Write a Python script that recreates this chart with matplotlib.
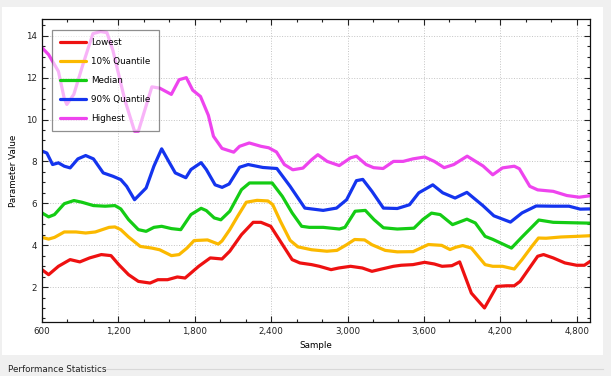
import matplotlib
matplotlib.use("Agg")
import matplotlib.pyplot as plt
from matplotlib.patches import Rectangle
from matplotlib.ticker import MultipleLocator, StrMethodFormatter

# values
highest_x = [600, 652, 729, 775, 795, 850, 920, 1000, 1060, 1110, 1157, 1250, 1327, 1357,
             1463, 1524, 1616, 1677, 1734, 1784, 1845, 1907, 1947, 2014, 2106, 2152, 2228,
             2320, 2381, 2442, 2504, 2570, 2650, 2718, 2767, 2840, 2935, 3024, 3070, 3146,
             3205, 3280, 3361, 3437, 3514, 3606, 3682, 3759, 3835, 3940, 4065, 4141, 4218,
             4310, 4350, 4432, 4494, 4616, 4723, 4820, 4907]
highest_y = [13.43, 13.1, 12.3, 11.0, 10.72, 11.2, 12.6, 14.1, 14.2, 14.15, 13.3, 10.95, 9.44,
             9.44, 11.56, 11.5, 11.2, 11.9, 12.0, 11.4, 11.1, 10.2, 9.2, 8.62, 8.44, 8.72, 8.88,
             8.72, 8.65, 8.45, 7.85, 7.6, 7.68, 8.08, 8.32, 8.0, 7.8, 8.17, 8.25, 7.85,
             7.7, 7.66, 8.0, 8.0, 8.12, 8.21, 8.0, 7.7, 7.85, 8.25, 7.78, 7.36, 7.69,
             7.77, 7.65, 6.81, 6.64, 6.57, 6.37, 6.29, 6.36]

q90_x = [600, 638, 683, 729, 775, 821, 882, 943, 1004, 1081, 1157, 1219, 1265, 1327, 1418,
         1479, 1540, 1602, 1647, 1730, 1770, 1850, 1891, 1960, 2015, 2070, 2152, 2220, 2335,
         2445, 2549, 2665, 2809, 2914, 2993, 3070, 3120, 3192, 3282, 3391, 3487, 3560, 3670,
         3748, 3845, 3938, 4065, 4150, 4280, 4371, 4482, 4616, 4740, 4828, 4907]
q90_y = [8.49, 8.4, 7.85, 7.93, 7.77, 7.69, 8.12, 8.28, 8.12, 7.45, 7.29, 7.13, 6.81, 6.17, 6.73,
         7.77, 8.6, 7.93, 7.45, 7.22, 7.61, 7.94, 7.61, 6.88, 6.76, 6.92, 7.72, 7.85, 7.71,
         7.66, 6.81, 5.77, 5.66, 5.77, 6.17, 7.08, 7.14, 6.57, 5.77, 5.75, 5.93, 6.5, 6.88,
         6.5, 6.25, 6.52, 5.88, 5.4, 5.1, 5.54, 5.87, 5.86, 5.86, 5.72, 5.73]

median_x = [600, 652, 698, 775, 851, 913, 1004, 1096, 1173, 1219, 1280, 1357, 1418, 1479,
            1540, 1617, 1690, 1770, 1850, 1891, 1953, 2005, 2075, 2167, 2230, 2408, 2488,
            2565, 2640, 2700, 2809, 2936, 2980, 3060, 3140, 3208, 3282, 3391, 3522, 3591,
            3660, 3728, 3825, 3938, 4004, 4081, 4140, 4288, 4371, 4503, 4616, 4907]
median_y = [5.54, 5.35, 5.46, 5.98, 6.13, 6.05, 5.89, 5.86, 5.89, 5.73, 5.22, 4.74, 4.66, 4.85,
            4.9, 4.79, 4.74, 5.46, 5.76, 5.65, 5.3, 5.21, 5.62, 6.65, 6.97, 6.97, 6.33,
            5.54, 4.9, 4.85, 4.85, 4.77, 4.85, 5.62, 5.66, 5.22, 4.83, 4.77, 4.81, 5.22,
            5.53, 5.46, 4.98, 5.24, 5.06, 4.42, 4.28, 3.86, 4.39, 5.2, 5.09, 5.05]

q10_x = [600, 652, 698, 775, 867, 943, 1019, 1127, 1173, 1219, 1280, 1372, 1463, 1524, 1617,
         1677, 1739, 1795, 1900, 1985, 2014, 2075, 2137, 2205, 2290, 2375, 2412, 2473, 2549,
         2610, 2718, 2838, 2917, 2993, 3056, 3134, 3192, 3296, 3391, 3515, 3575, 3635, 3740,
         3805, 3851, 3905, 3973, 4081, 4141, 4218, 4310, 4371, 4448, 4500, 4560, 4677,
         4800, 4907]
q10_y = [4.37, 4.29, 4.37, 4.63, 4.63, 4.58, 4.63, 4.85, 4.87, 4.74, 4.39, 3.94, 3.86, 3.78,
         3.5, 3.55, 3.86, 4.22, 4.25, 4.05, 4.2, 4.74, 5.38, 6.05, 6.14, 6.11, 5.94, 5.14,
         4.23, 3.92, 3.78, 3.71, 3.75, 4.02, 4.27, 4.25, 4.02, 3.75, 3.68, 3.69, 3.86, 4.03,
         3.99, 3.79, 3.9, 3.98, 3.86, 3.07, 2.99, 2.99, 2.86, 3.31, 3.94, 4.34, 4.33, 4.39,
         4.42, 4.45]

lowest_x = [600, 652, 729, 821, 897, 974, 1066, 1142, 1203, 1280, 1357, 1449, 1510, 1586,
            1663, 1724, 1831, 1922, 2014, 2075, 2167, 2259, 2320, 2397, 2473, 2565, 2626,
            2718, 2779, 2871, 2932, 3024, 3116, 3192, 3268, 3361, 3422, 3514, 3606, 3682,
            3743, 3820, 3881, 3973, 4076, 4172, 4249, 4310, 4356, 4448, 4494, 4540, 4616,
            4708, 4800, 4861, 4907]
lowest_y = [2.83, 2.59, 2.99, 3.31, 3.2, 3.39, 3.55, 3.5, 3.07, 2.59, 2.27, 2.19, 2.35, 2.35,
            2.48, 2.43, 2.99, 3.39, 3.34, 3.71, 4.5, 5.09, 5.09, 4.9, 4.18, 3.31, 3.15,
            3.07, 2.99, 2.83, 2.91, 2.99, 2.91, 2.75, 2.86, 2.99, 3.04, 3.07, 3.18, 3.1,
            2.99, 3.02, 3.2, 1.71, 1.0, 2.03, 2.06, 2.06, 2.27, 3.07, 3.47, 3.55, 3.39,
            3.15, 3.04, 3.04, 3.23]

series = [
    ("Lowest", lowest_x, lowest_y, "#ee1111"),
    ("10% Quantile", q10_x, q10_y, "#fbb900"),
    ("Median", median_x, median_y, "#14cc14"),
    ("90% Quantile", q90_x, q90_y, "#1434ee"),
    ("Highest", highest_x, highest_y, "#ee44ee"),
]

plt.rcParams['font.family'] = ['DejaVu Sans']
fs = 6.3

fig = plt.figure(figsize=(6.11, 3.76), dpi=100)
fig.patch.set_facecolor('#f0f0f0')
# white panel behind the chart
fig.patches.append(Rectangle((2 / 611, 1 - 355 / 376), 601 / 611, 348 / 376,
                             transform=fig.transFigure, facecolor='white',
                             edgecolor='none', zorder=-10))
fig.text(8 / 611, 1 - 370 / 376, "Performance Statistics", fontsize=fs,
         va='center', ha='left', color='#222222')
fig.add_artist(plt.Line2D([104 / 611, 603 / 611], [1 - 369 / 376, 1 - 369 / 376],
                          transform=fig.transFigure, color='#d8d8d8', lw=0.8))

ax = fig.add_axes([42 / 611, 1 - 322 / 376, 548 / 611, 303 / 376])
ax.set_facecolor('white')

for name, xs, ys, col in series:
    ax.plot(xs, ys, color=col, lw=2.3, label=name, solid_joinstyle='round',
            solid_capstyle='round')

ax.set_xlim(600, 4905)
ax.set_ylim(0.33, 14.8)
ax.xaxis.set_major_locator(MultipleLocator(600))
ax.xaxis.set_minor_locator(MultipleLocator(200))
ax.yaxis.set_major_locator(MultipleLocator(2))
ax.yaxis.set_minor_locator(MultipleLocator(0.5))
ax.xaxis.set_major_formatter(StrMethodFormatter('{x:,.0f}'))
ax.tick_params(which='both', direction='in', top=True, right=True, labelsize=fs,
               colors='#222222', width=0.8)
ax.tick_params(which='major', length=4)
ax.tick_params(which='minor', length=2)
ax.grid(True, which='major', linestyle=':', color='#c4c4c4', lw=0.7)
for sp in ax.spines.values():
    sp.set_linewidth(0.9)
    sp.set_color('#111111')

ax.set_xlabel("Sample", fontsize=fs, labelpad=4)
ax.set_ylabel("Parameter Value", fontsize=fs, labelpad=6)

leg = ax.legend(loc='upper left', bbox_to_anchor=(10 / 548, 1 - 11 / 303),
                borderaxespad=0, fontsize=fs, fancybox=False, framealpha=0.6,
                edgecolor='#444444', handlelength=3.0, handletextpad=0.6,
                labelspacing=1.15, borderpad=0.9)
leg.get_frame().set_linewidth(0.9)

fig.savefig("out.png", dpi=100, facecolor=fig.get_facecolor())
